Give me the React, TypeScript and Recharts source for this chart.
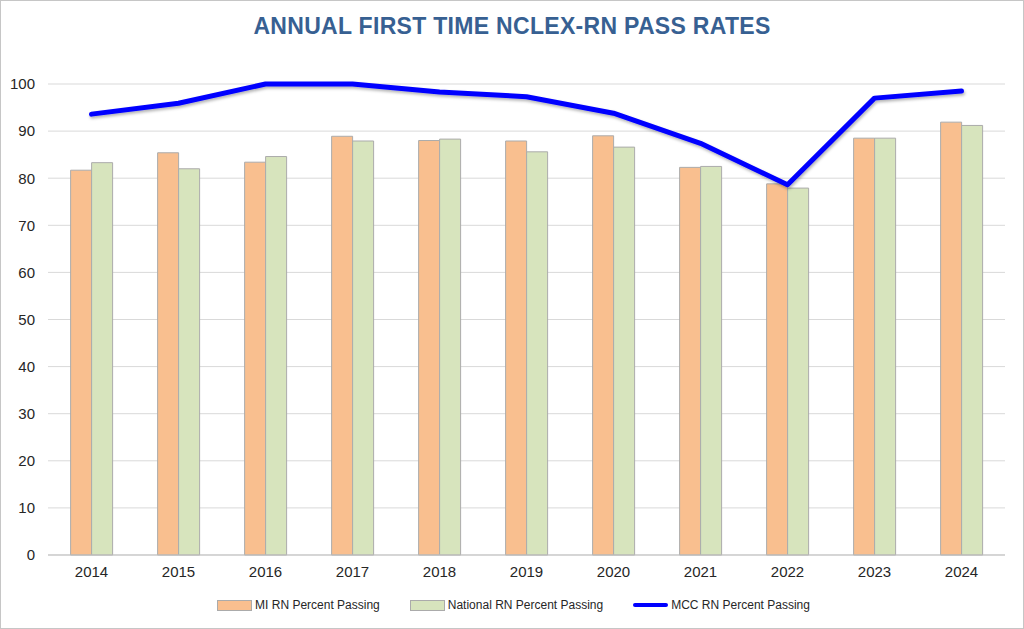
import React from 'react';
import { ComposedChart, Bar, Line, XAxis, YAxis, CartesianGrid, Legend } from 'recharts';

const years = ['2014', '2015', '2016', '2017', '2018', '2019', '2020', '2021', '2022', '2023', '2024'];
const miRN = [81.7, 85.4, 83.4, 88.9, 88.0, 87.9, 89.0, 82.3, 78.8, 88.5, 91.9];
const nationalRN = [83.3, 82.0, 84.6, 87.9, 88.3, 85.6, 86.6, 82.5, 77.9, 88.5, 91.2];
const mccRN = [93.6, 95.9, 100, 100, 98.3, 97.3, 93.8, 87.4, 78.6, 97.0, 98.5];
const yTicks = [0, 10, 20, 30, 40, 50, 60, 70, 80, 90, 100];

const data = years.map((y, i) => ({ year: y, mi: miRN[i], nat: nationalRN[i], mcc: mccRN[i] }));

const ORANGE = '#F9BF8F';
const GREEN = '#D7E4BD';
const BLUE = '#0000FF';
const BAR_STROKE = '#ABABAB';
const SANS = '"Liberation Sans", Arial, sans-serif';

const LegendContent = () => {
  const items = [
    { label: 'MI RN Percent Passing', type: 'rect', color: ORANGE },
    { label: 'National RN Percent Passing', type: 'rect', color: GREEN },
    { label: 'MCC RN Percent Passing', type: 'line', color: BLUE },
  ];
  return (
    <div style={{ display: 'flex', justifyContent: 'center', alignItems: 'center', gap: 30, paddingTop: 13, paddingLeft: 22, fontFamily: SANS, fontSize: 12, color: '#262626' }}>
      {items.map((it) => (
        <div key={it.label} style={{ display: 'flex', alignItems: 'center' }}>
          {it.type === 'rect' ? (
            <div style={{ width: 35, height: 11, background: it.color, border: `1px solid ${BAR_STROKE}`, boxSizing: 'border-box', marginRight: 3 }} />
          ) : (
            <div style={{ width: 35, height: 4, background: it.color, borderRadius: 2, marginRight: 3 }} />
          )}
          <span>{it.label}</span>
        </div>
      ))}
    </div>
  );
};

export default function App() {
  return (
    <div style={{ position: 'absolute', top: 0, left: 0, width: 1024, height: 629, background: '#fff', border: '1px solid #C6C6C6', boxSizing: 'border-box', overflow: 'hidden' }}>
      <div style={{ position: 'absolute', top: 12, left: 0, width: 1022, textAlign: 'center', fontFamily: SANS, fontWeight: 'bold', fontSize: 23, letterSpacing: 0.3, color: '#376092' }}>
        ANNUAL FIRST TIME NCLEX-RN PASS RATES
      </div>
      <div style={{ position: 'absolute', top: -1, left: -1 }}>
        <ComposedChart
          width={1024}
          height={629}
          data={data}
          margin={{ top: 84, right: 19, left: 0, bottom: 4 }}
          barCategoryGap="26%"
          barGap={0}
        >
          <defs>
            <filter id="lineShadow" x="-5%" y="-20%" width="110%" height="140%">
              <feDropShadow dx="1" dy="2" stdDeviation="1.5" floodColor="#000" floodOpacity="0.3" />
            </filter>
          </defs>
          <CartesianGrid vertical={false} stroke="#D9D9D9" strokeWidth={1} />
          <XAxis
            dataKey="year"
            axisLine={{ stroke: '#BFBFBF' }}
            tickLine={false}
            tickSize={0}
            tickMargin={11}
            height={30}
            tick={{ fontFamily: SANS, fontSize: 15, fill: '#262626' }}
          />
          <YAxis
            domain={[0, 100]}
            ticks={yTicks}
            interval={0}
            axisLine={false}
            tickLine={false}
            tickSize={0}
            tickMargin={13}
            width={48}
            tick={{ fontFamily: SANS, fontSize: 15, fill: '#262626' }}
          />
          <Legend verticalAlign="bottom" height={40} content={<LegendContent />} />
          <Bar dataKey="mi" name="MI RN Percent Passing" fill={ORANGE} stroke={BAR_STROKE} strokeWidth={1} isAnimationActive={false} />
          <Bar dataKey="nat" name="National RN Percent Passing" fill={GREEN} stroke={BAR_STROKE} strokeWidth={1} isAnimationActive={false} />
          <Line
            dataKey="mcc"
            name="MCC RN Percent Passing"
            type="linear"
            stroke={BLUE}
            strokeWidth={5}
            dot={false}
            activeDot={false}
            strokeLinecap="round"
            strokeLinejoin="round"
            style={{ filter: 'url(#lineShadow)' }}
            isAnimationActive={false}
          />
        </ComposedChart>
      </div>
    </div>
  );
}
